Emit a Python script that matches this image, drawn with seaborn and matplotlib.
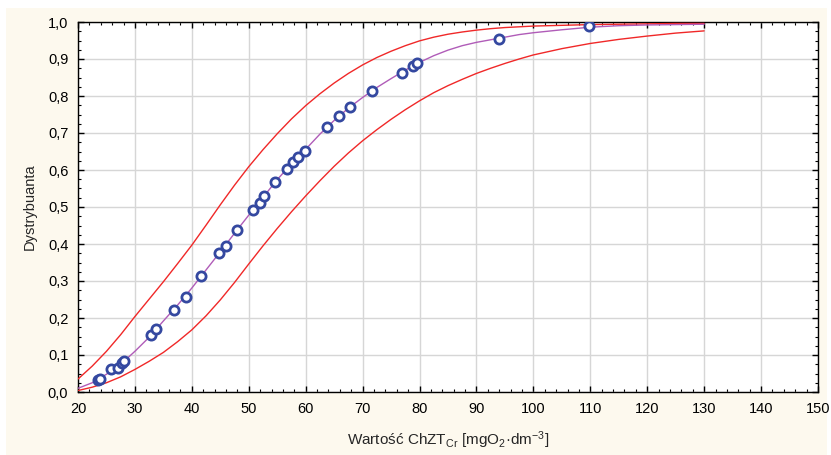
import matplotlib
matplotlib.use("Agg")
import matplotlib.pyplot as plt
from matplotlib.patches import Rectangle
from matplotlib.ticker import MultipleLocator, FuncFormatter
import seaborn as sns
import pandas as pd

# Observed COD values and their distribution-function values
obs_x = [23.6, 23.8, 25.8, 27.0, 27.7, 28.1, 32.9, 33.7, 36.8, 38.9, 41.6, 44.8,
         46.0, 47.9, 50.7, 52.0, 52.7, 54.6, 56.7, 57.8, 58.7, 59.8, 63.8, 65.8,
         67.8, 71.7, 76.9, 78.9, 79.6, 93.9, 109.8]
obs_y = [0.033, 0.036, 0.061, 0.066, 0.079, 0.085, 0.153, 0.171, 0.221, 0.258, 0.314, 0.375,
         0.395, 0.438, 0.492, 0.512, 0.529, 0.567, 0.603, 0.622, 0.634, 0.652, 0.715, 0.746,
         0.771, 0.814, 0.863, 0.881, 0.888, 0.955, 0.988]

# Fitted distribution function and its confidence band
curve_x = [20, 22.5, 25, 27.5, 30, 32.5, 35, 37.5, 40, 42.5, 45, 47.5, 50, 52.5, 55,
           57.5, 60, 62.5, 65, 67.5, 70, 72.5, 75, 77.5, 80, 82.5, 85, 87.5, 90, 92.5,
           95, 97.5, 100, 105, 110, 115, 120, 125, 130]
fit_y = [0.010, 0.025, 0.048, 0.075, 0.110, 0.148, 0.192, 0.235, 0.281, 0.330, 0.379,
         0.429, 0.478, 0.526, 0.574, 0.617, 0.656, 0.697, 0.734, 0.767, 0.796, 0.823,
         0.847, 0.870, 0.891, 0.909, 0.924, 0.936, 0.945, 0.952, 0.959, 0.966, 0.971,
         0.979, 0.986, 0.990, 0.992, 0.993, 0.994]
upper_y = [0.035, 0.070, 0.110, 0.155, 0.204, 0.251, 0.298, 0.347, 0.397, 0.451, 0.506,
           0.559, 0.609, 0.655, 0.698, 0.738, 0.774, 0.806, 0.835, 0.861, 0.884, 0.904,
           0.921, 0.936, 0.949, 0.959, 0.967, 0.973, 0.978, 0.982, 0.985, 0.987, 0.989,
           0.991, 0.993, 0.994, 0.995, 0.996, 0.996]
lower_y = [0.004, 0.013, 0.025, 0.041, 0.061, 0.083, 0.107, 0.136, 0.168, 0.206, 0.249,
           0.296, 0.346, 0.395, 0.442, 0.487, 0.530, 0.571, 0.610, 0.646, 0.679, 0.709,
           0.737, 0.763, 0.787, 0.809, 0.828, 0.845, 0.861, 0.875, 0.888, 0.900, 0.911,
           0.928, 0.942, 0.953, 0.962, 0.970, 0.976]

x_ticks = list(range(20, 151, 10))
y_ticks = [i / 10 for i in range(11)]

sns.set_style("ticks")
plt.rcParams["font.family"] = ["Liberation Sans", "DejaVu Sans"]
plt.rcParams["mathtext.fontset"] = "custom"
plt.rcParams["mathtext.rm"] = "Liberation Sans"
plt.rcParams["mathtext.it"] = "Liberation Sans:italic"
plt.rcParams["mathtext.bf"] = "Liberation Sans:bold"

W, H = 831, 455
fig = plt.figure(figsize=(W / 100, H / 100), dpi=100, facecolor="white")
fig.patches.append(Rectangle((6 / W, 0), (827 - 6) / W, (H - 8) / H,
                             transform=fig.transFigure, facecolor="#fdf9ee",
                             edgecolor="none", zorder=-10))
ax = fig.add_axes([78 / W, (H - 392) / H, 740 / W, 370 / H])
ax.set_facecolor("white")

curves = pd.DataFrame({"x": curve_x, "fit": fit_y, "upper": upper_y, "lower": lower_y})
obs = pd.DataFrame({"x": obs_x, "y": obs_y})

sns.lineplot(data=curves, x="x", y="upper", ax=ax, color="#f02828", lw=1.0,
             estimator=None, sort=False, zorder=3)
sns.lineplot(data=curves, x="x", y="lower", ax=ax, color="#f02828", lw=1.0,
             estimator=None, sort=False, zorder=3)
sns.lineplot(data=curves, x="x", y="fit", ax=ax, color="#b05cb8", lw=1.0,
             estimator=None, sort=False, zorder=4)
sns.scatterplot(data=obs, x="x", y="y", ax=ax, s=44, marker="o",
                facecolor="white", edgecolor="#3448a0", linewidth=2.0, zorder=5)

ax.set_xlim(20, 150)
ax.set_ylim(0, 1.0)
ax.set_xticks(x_ticks)
ax.set_yticks(y_ticks)
ax.xaxis.set_minor_locator(MultipleLocator(2))
ax.yaxis.set_minor_locator(MultipleLocator(0.025))
ax.yaxis.set_major_formatter(FuncFormatter(lambda v, p: f"{v:.1f}".replace(".", ",")))
ax.xaxis.set_major_formatter(FuncFormatter(lambda v, p: f"{v:.0f}"))

ax.grid(True, which="major", color="#d6d6d6", lw=1.0, zorder=0)
ax.set_axisbelow(True)
for s in ax.spines.values():
    s.set_visible(True)
    s.set_color("black")
    s.set_linewidth(1.0)

ax.tick_params(which="both", direction="in", top=True, right=True,
               bottom=True, left=True, colors="black")
ax.tick_params(which="major", length=4, width=1.0, labelsize=10.5, pad=7)
ax.tick_params(which="minor", length=2.5, width=0.8)

ax.set_xlabel(r"Wartość ChZT$_{\mathrm{Cr}}$ [mgO$_2$·dm$^{-3}$]", fontsize=11, labelpad=10)
ax.set_ylabel("Dystrybuanta", fontsize=10.5, labelpad=8)

fig.savefig("out.png", dpi=100, facecolor=fig.get_facecolor())
